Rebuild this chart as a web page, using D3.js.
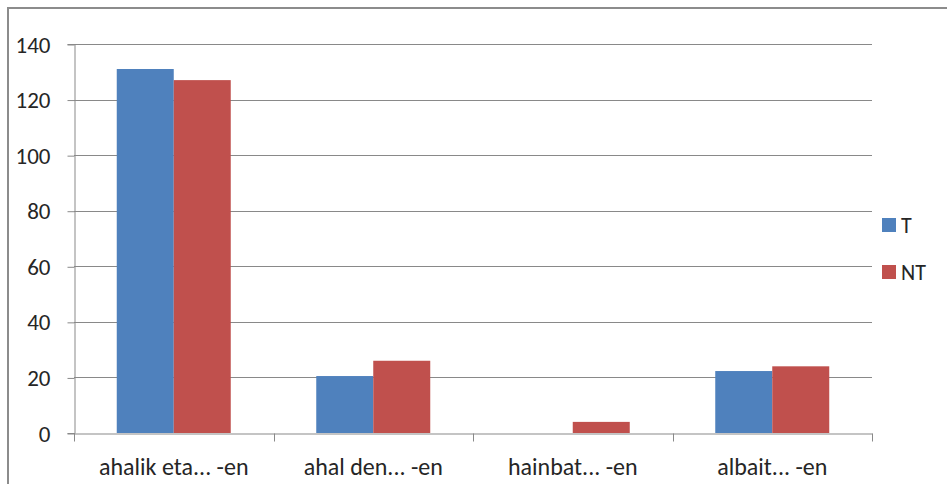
<!DOCTYPE html>
<html>
<head>
<meta charset="utf-8">
<script src="https://cdn.jsdelivr.net/npm/d3@7"></script>
<style>
  html, body { margin: 0; padding: 0; background: #fff; }
  svg { display: block; }
  text { font-family: Calibri, Carlito, Lato, "Open Sans", sans-serif; fill: #262626; }
</style>
</head>
<body>
<svg id="chart" width="947" height="484"></svg>
<script>
// Category labels, series names and values
const categories = ["ahalik eta... -en", "ahal den... -en", "hainbat... -en", "albait... -en"];
const seriesNames = ["T", "NT"];
const valuesT = [131, 20.5, 0, 22.3];
const valuesNT = [127, 26, 4, 24];
const yTicks = [0, 20, 40, 60, 80, 100, 120, 140];
const colors = ["#4f81bd", "#c0504d"];

const svg = d3.select("#chart");
const plot = { left: 74, right: 872, top: 44, bottom: 433 };

// Outer chart frame (runs past the visible area on the right and bottom)
svg.append("rect")
  .attr("x", 8).attr("y", 8)
  .attr("width", 1000).attr("height", 600)
  .attr("fill", "#fff")
  .attr("stroke", "#8c8c8c").attr("stroke-width", 2);

const y = d3.scaleLinear().domain([0, 140]).range([plot.bottom, plot.top]);
const x0 = d3.scaleBand().domain(categories).range([plot.left, plot.right]).padding(0);
const x1 = d3.scaleBand().domain(seriesNames)
  .range([0, x0.bandwidth()]).paddingInner(0).paddingOuter(0.75);

// Horizontal gridlines
svg.append("g")
  .selectAll("line")
  .data(yTicks.filter(d => d > 0))
  .join("line")
  .attr("x1", plot.left).attr("x2", plot.right)
  .attr("y1", d => Math.round(y(d)) + 0.5).attr("y2", d => Math.round(y(d)) + 0.5)
  .attr("stroke", "#898989").attr("stroke-width", 1);

// Bars
const rows = categories.map((c, i) => ({ c, vals: [valuesT[i], valuesNT[i]] }));
const groups = svg.append("g").selectAll("g")
  .data(rows).join("g")
  .attr("transform", d => `translate(${x0(d.c)},0)`);
groups.selectAll("rect")
  .data(d => d.vals.map((v, j) => ({ v, s: seriesNames[j], j })))
  .join("rect")
  .filter(d => d.v > 0)
  .attr("x", d => x1(d.s))
  .attr("width", x1.bandwidth())
  .attr("y", d => y(d.v))
  .attr("height", d => y(0) - y(d.v))
  .attr("fill", d => colors[d.j]);

// Y axis
const yAxis = d3.axisLeft(y).tickValues(yTicks).tickSize(7);
const gy = svg.append("g")
  .attr("transform", `translate(${plot.left + 0.5},0)`)
  .call(yAxis);
gy.select(".domain").attr("stroke", "#898989");
gy.selectAll(".tick line").attr("stroke", "#898989")
  .attr("transform", "translate(0,0.5)");
gy.selectAll(".tick text")
  .style("font-size", "23px")
  .attr("dy", "0.35em")
  .attr("x", -24);

// X axis
const xAxis = d3.axisBottom(x0).tickSize(0).tickPadding(24);
const gx = svg.append("g")
  .attr("transform", `translate(0,${plot.bottom + 0.5})`)
  .call(xAxis);
gx.select(".domain").attr("stroke", "#898989");
gx.selectAll(".tick text")
  .style("font-size", "24px")
  .attr("dy", null)
  .attr("y", 41);
// Category separator ticks on the band boundaries
const bounds = categories.map(c => x0(c)).concat([plot.right]);
gx.append("g").selectAll("line")
  .data(bounds).join("line")
  .attr("x1", d => Math.round(d) + 0.5).attr("x2", d => Math.round(d) + 0.5)
  .attr("y1", 0).attr("y2", 8)
  .attr("stroke", "#898989");

// Legend
const legend = svg.append("g").attr("transform", "translate(882,218)");
const items = legend.selectAll("g")
  .data(seriesNames).join("g")
  .attr("transform", (d, i) => `translate(0,${i * 47})`);
items.append("rect")
  .attr("width", 14).attr("height", 14)
  .attr("fill", (d, i) => colors[i]);
items.append("text")
  .attr("x", 19).attr("y", 7)
  .attr("dy", "0.36em")
  .style("font-size", "22px")
  .text(d => d);
</script>
</body>
</html>
